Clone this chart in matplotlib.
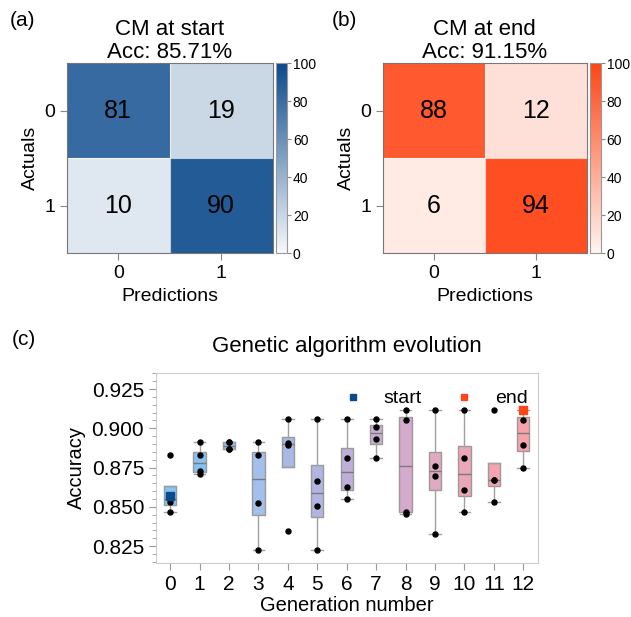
import numpy as np
import matplotlib.pyplot as plt
from matplotlib.colors import LinearSegmentedColormap

plt.rcParams['font.family'] = ['Liberation Sans', 'DejaVu Sans']

# --- confusion matrices (percent) ---
cm_labels = ['0', '1']
cm_start = [[81, 19], [10, 90]]
cm_end = [[88, 12], [6, 94]]
acc_start = 85.71
acc_end = 91.15

# --- GA accuracies per generation ---
generations = list(range(13))
gen0 = [0.847, 0.853, 0.857, 0.883]
gen1 = [0.871, 0.873, 0.883, 0.891]
gen2 = [0.887, 0.887, 0.891, 0.891]
gen3 = [0.8224, 0.8527, 0.883, 0.891]
gen4 = [0.8345, 0.8894, 0.8905, 0.9057]
gen5 = [0.8224, 0.8506, 0.8667, 0.9057]
gen6 = [0.8549, 0.8627, 0.8811, 0.9057]
gen7 = [0.8811, 0.8932, 0.901, 0.9057]
gen8 = [0.8453, 0.847, 0.9053, 0.9116]
gen9 = [0.8326, 0.8699, 0.8758, 0.9116]
gen10 = [0.8467, 0.8607, 0.8809, 0.9116]
gen11 = [0.8529, 0.8669, 0.8669, 0.9116]
gen12 = [0.8749, 0.8892, 0.9053, 0.9116]
accuracy = [gen0, gen1, gen2, gen3, gen4, gen5, gen6,
            gen7, gen8, gen9, gen10, gen11, gen12]
start_gen, start_acc = 0, 0.857
end_gen, end_acc = 12, 0.9116

box_colors = ['#82c6f6', '#85c1f2', '#8dbbee', '#a3c0ec', '#a8b9e6', '#b2b5e2',
              '#bdafda', '#ccadd3', '#d6aacc', '#e2a9c2', '#eba6b9', '#f3a4b1', '#f8a3ab']
blue_dark = '#0b4a8c'
red_dark = '#ff4515'

cmap_blue = LinearSegmentedColormap.from_list('cm_blue', ['#f7f9fc', blue_dark])
cmap_red = LinearSegmentedColormap.from_list('cm_red', ['#fff5f2', red_dark])

fig = plt.figure(figsize=(6.31, 6.17), dpi=100)


def draw_cm(ax, cax, data, cmap, title):
    im = ax.imshow(data, cmap=cmap, vmin=0, vmax=100, aspect='auto')
    for i in range(2):
        for j in range(2):
            ax.text(j, i, str(data[i][j]), ha='center', va='center', fontsize=18)
    ax.axhline(0.5, color='white', lw=0.8, alpha=0.7)
    ax.axvline(0.5, color='white', lw=0.8, alpha=0.7)
    ax.set_xticks([0, 1], cm_labels)
    ax.set_yticks([0, 1], cm_labels)
    ax.tick_params(labelsize=14, length=5, color='#888888')
    ax.set_xlabel('Predictions', fontsize=14)
    ax.set_ylabel('Actuals', fontsize=14)
    ax.set_title(title, fontsize=16, pad=3, linespacing=1.12)
    for s in ax.spines.values():
        s.set_color('#777777')
    cb = fig.colorbar(im, cax=cax, ticks=range(0, 101, 20))
    cb.outline.set_edgecolor('#999999')
    cb.ax.tick_params(labelsize=10, length=3, color='#888888', pad=1)


ax_a = fig.add_axes([0.1057, 0.5895, 0.3265, 0.3079])
cax_a = fig.add_axes([0.4374, 0.5895, 0.0179, 0.3079])
draw_cm(ax_a, cax_a, cm_start, cmap_blue, f'CM at start\nAcc: {acc_start:.2f}%')

ax_b = fig.add_axes([0.6065, 0.5895, 0.3235, 0.3079])
cax_b = fig.add_axes([0.9350, 0.5895, 0.0175, 0.3079])
draw_cm(ax_b, cax_b, cm_end, cmap_red, f'CM at end\nAcc: {acc_end:.2f}%')

# --- (c) box plot ---
ax_c = fig.add_axes([0.2472, 0.088, 0.605, 0.307])
bp = ax_c.boxplot(accuracy, positions=generations, widths=0.42, patch_artist=True,
                  showfliers=False,
                  medianprops=dict(color='#7a7a7a', lw=1),
                  boxprops=dict(edgecolor='#9a9a9a', lw=1),
                  whiskerprops=dict(color='#a0a0a0', lw=1),
                  capprops=dict(color='#a0a0a0', lw=1), capwidths=0.4)
for patch, c in zip(bp['boxes'], box_colors):
    patch.set_facecolor(c)

for g, vals in zip(generations, accuracy):
    ax_c.plot([g] * len(vals), vals, 'o', color='black', ms=3.6, zorder=3)

ax_c.plot(start_gen, start_acc, 's', color=blue_dark, ms=6, zorder=4, label='start')
ax_c.plot(end_gen, end_acc, 's', color=red_dark, ms=6, zorder=4, label='end')
ax_c.legend(loc='upper left', bbox_to_anchor=(0.418, 1.005), ncol=2, frameon=False,
            fontsize=14, markerscale=0.7, columnspacing=1.15, handletextpad=0.6)

ax_c.set_xlim(-0.48, 12.49)
ax_c.set_ylim(0.8145, 0.935)
ax_c.set_xticks(generations)
ax_c.set_yticks([0.825, 0.850, 0.875, 0.900, 0.925])
ax_c.set_yticklabels([f'{v:.3f}' for v in [0.825, 0.850, 0.875, 0.900, 0.925]])
ax_c.yaxis.set_minor_locator(plt.MultipleLocator(0.005))
ax_c.tick_params(axis='both', which='major', labelsize=15, length=5, color='#999999')
ax_c.tick_params(axis='y', which='minor', length=3, color='#999999')
for s in ax_c.spines.values():
    s.set_color('#cccccc')
ax_c.set_xlabel('Generation number', fontsize=14.5, labelpad=2)
ax_c.set_ylabel('Accuracy', fontsize=14.5)
ax_c.set_title('Genetic algorithm evolution', fontsize=16, pad=15)

fig.text(0.015, 0.966, '(a)', fontsize=15, va='center')
fig.text(0.525, 0.966, '(b)', fontsize=15, va='center')
fig.text(0.018, 0.449, '(c)', fontsize=15, va='center')

fig.savefig('out.png', dpi=100)
